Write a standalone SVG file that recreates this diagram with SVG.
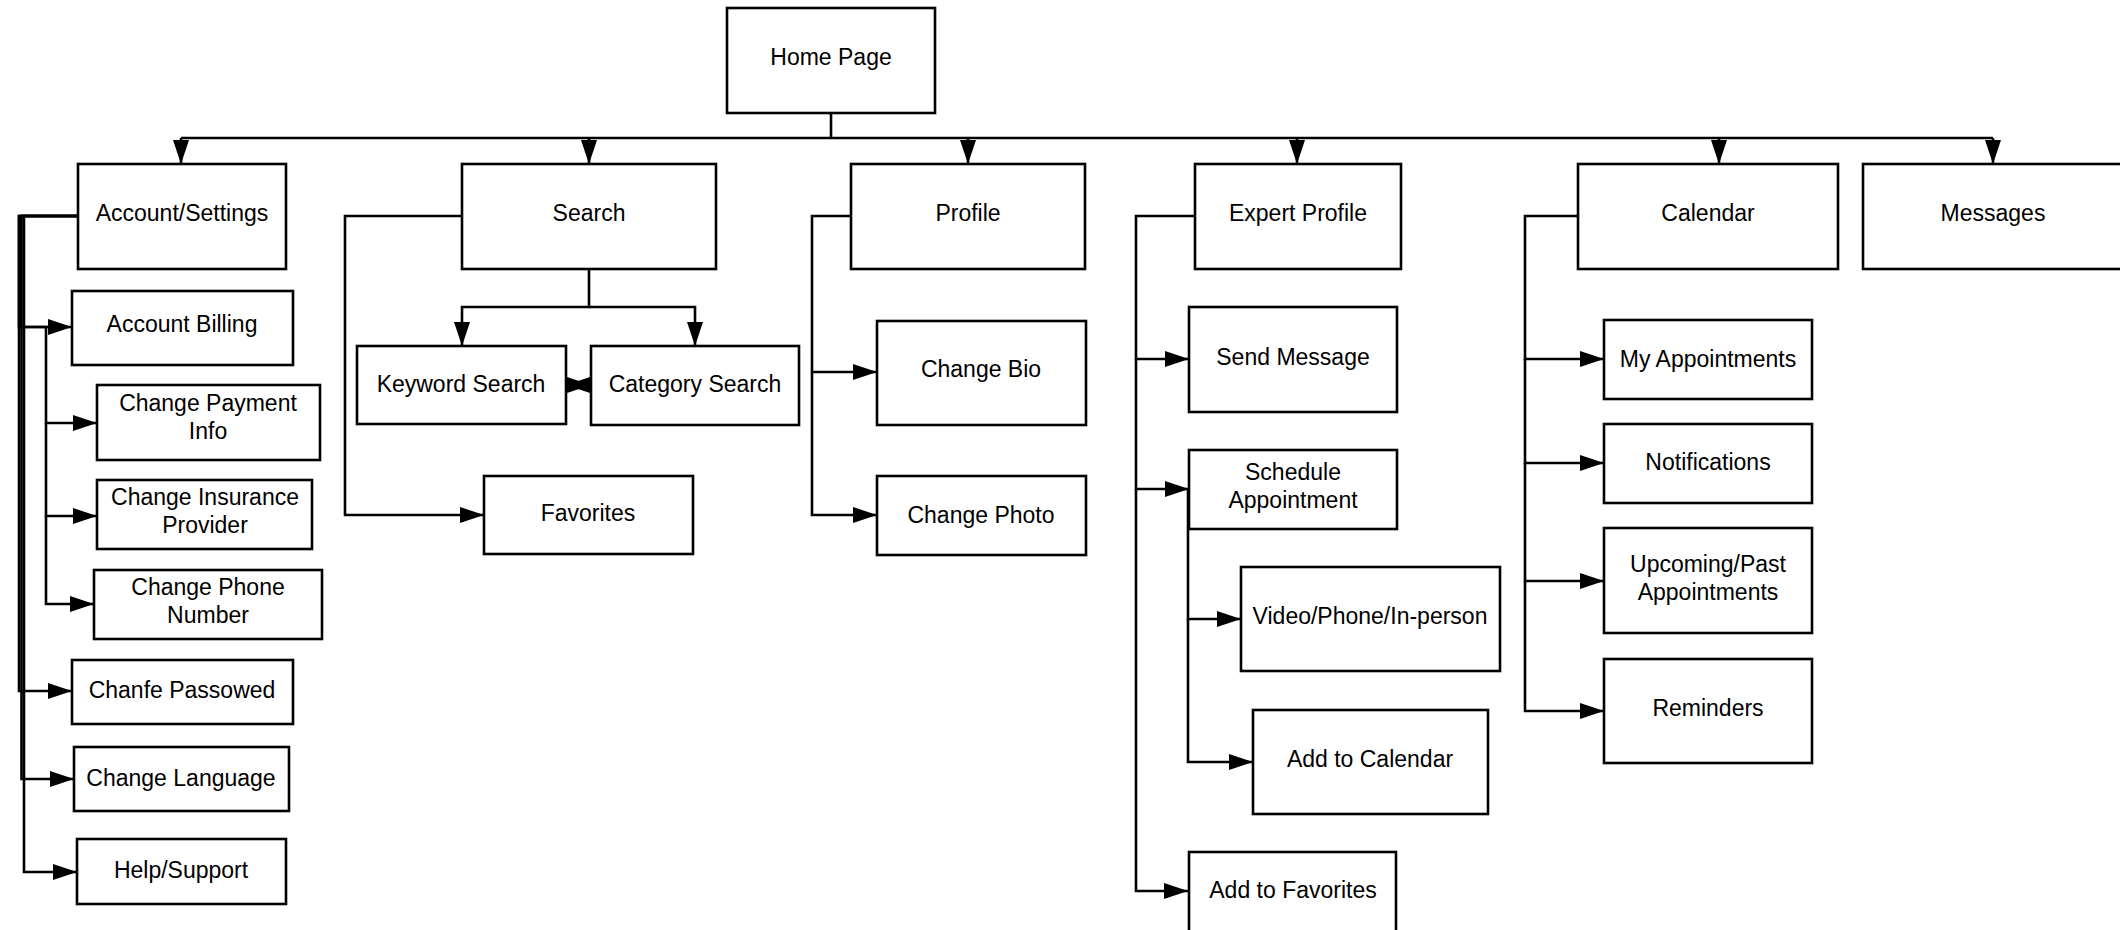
<svg xmlns="http://www.w3.org/2000/svg" width="2120" height="930" viewBox="0 0 2120 930">
<defs>
<marker id="arr" markerUnits="userSpaceOnUse" markerWidth="26" markerHeight="18" refX="24" refY="8" orient="auto-start-reverse"><path d="M0,0 L24,8 L0,16 z" fill="#000"/></marker>
<style>
.box{fill:#fff;stroke:#000;stroke-width:2.6}
.lbl{font-family:"Liberation Sans",Arial,sans-serif;font-size:23px;fill:#000;text-anchor:middle}
.c{fill:none;stroke:#000;stroke-width:2.6}
.a{marker-end:url(#arr)}
</style>
</defs>
<rect width="2120" height="930" fill="#fff"/>
<g id="connectors">
<path class="c" d="M831 113 V138"/>
<path class="c" d="M181 138 H1993"/>
<path class="c a" d="M181 138 V164"/>
<path class="c a" d="M589 138 V164"/>
<path class="c a" d="M968 138 V164"/>
<path class="c a" d="M1297 138 V164"/>
<path class="c a" d="M1719 138 V164"/>
<path class="c a" d="M1993 138 V164"/>
<path class="c a" d="M78 216 H19 V327 H72"/>
<path class="c a" d="M78 216 H21 V327 H46 V423 H97"/>
<path class="c a" d="M46 423 V516 H97"/>
<path class="c a" d="M46 516 V604 H94"/>
<path class="c a" d="M78 216 H19 V691 H72"/>
<path class="c a" d="M78 216 H21.5 V779 H74"/>
<path class="c a" d="M78 216 H24 V872 H77"/>
<path class="c a" d="M462 216 H345 V515 H484"/>
<path class="c a" d="M589 269 V307 H462 V346"/>
<path class="c a" d="M589 307 H695 V346"/>
<path class="c a" d="M566 385 H591" marker-start="url(#arr)"/>
<path class="c a" d="M851 216 H812 V372 H877"/>
<path class="c a" d="M812 372 V515 H877"/>
<path class="c a" d="M1195 216 H1136 V359 H1189"/>
<path class="c a" d="M1136 359 V489 H1189"/>
<path class="c a" d="M1136 489 V891 H1188"/>
<path class="c a" d="M1188 489 V619 H1241"/>
<path class="c a" d="M1188 619 V762 H1253"/>
<path class="c a" d="M1578 216 H1525 V359 H1604"/>
<path class="c a" d="M1525 359 V463 H1604"/>
<path class="c a" d="M1525 463 V581 H1604"/>
<path class="c a" d="M1525 581 V711 H1604"/>
</g>
<g id="home"><rect class="box" x="727" y="8" width="208" height="105"/><text class="lbl" x="831" y="65">Home Page</text></g>
<g id="account-settings"><rect class="box" x="78" y="164" width="208" height="105"/><text class="lbl" x="182" y="221">Account/Settings</text></g>
<g id="search"><rect class="box" x="462" y="164" width="254" height="105"/><text class="lbl" x="589" y="221">Search</text></g>
<g id="profile"><rect class="box" x="851" y="164" width="234" height="105"/><text class="lbl" x="968" y="221">Profile</text></g>
<g id="expert-profile"><rect class="box" x="1195" y="164" width="206" height="105"/><text class="lbl" x="1298" y="221">Expert Profile</text></g>
<g id="calendar"><rect class="box" x="1578" y="164" width="260" height="105"/><text class="lbl" x="1708" y="221">Calendar</text></g>
<g id="messages"><rect class="box" x="1863" y="164" width="262" height="105"/><text class="lbl" x="1993" y="221">Messages</text></g>
<g id="account-billing"><rect class="box" x="72" y="291" width="221" height="74"/><text class="lbl" x="182" y="332">Account Billing</text></g>
<g id="change-payment"><rect class="box" x="97" y="385" width="223" height="75"/><text class="lbl" x="208" y="411">Change Payment</text><text class="lbl" x="208" y="439">Info</text></g>
<g id="change-insurance"><rect class="box" x="97" y="480" width="215" height="69"/><text class="lbl" x="205" y="505">Change Insurance</text><text class="lbl" x="205" y="533">Provider</text></g>
<g id="change-phone"><rect class="box" x="94" y="570" width="228" height="69"/><text class="lbl" x="208" y="595">Change Phone</text><text class="lbl" x="208" y="623">Number</text></g>
<g id="change-password"><rect class="box" x="72" y="660" width="221" height="64"/><text class="lbl" x="182" y="698">Chanfe Passowed</text></g>
<g id="change-language"><rect class="box" x="74" y="747" width="215" height="64"/><text class="lbl" x="181" y="786">Change Language</text></g>
<g id="help-support"><rect class="box" x="77" y="839" width="209" height="65"/><text class="lbl" x="181" y="878">Help/Support</text></g>
<g id="keyword-search"><rect class="box" x="357" y="346" width="209" height="78"/><text class="lbl" x="461" y="392">Keyword Search</text></g>
<g id="category-search"><rect class="box" x="591" y="346" width="208" height="79"/><text class="lbl" x="695" y="392">Category Search</text></g>
<g id="favorites"><rect class="box" x="484" y="476" width="209" height="78"/><text class="lbl" x="588" y="521">Favorites</text></g>
<g id="change-bio"><rect class="box" x="877" y="321" width="209" height="104"/><text class="lbl" x="981" y="377">Change Bio</text></g>
<g id="change-photo"><rect class="box" x="877" y="476" width="209" height="79"/><text class="lbl" x="981" y="523">Change Photo</text></g>
<g id="send-message"><rect class="box" x="1189" y="307" width="208" height="105"/><text class="lbl" x="1293" y="365">Send Message</text></g>
<g id="schedule-appointment"><rect class="box" x="1189" y="450" width="208" height="79"/><text class="lbl" x="1293" y="480">Schedule</text><text class="lbl" x="1293" y="508">Appointment</text></g>
<g id="video-phone"><rect class="box" x="1241" y="567" width="259" height="104"/><text class="lbl" x="1370" y="624">Video/Phone/In-person</text></g>
<g id="add-to-calendar"><rect class="box" x="1253" y="710" width="235" height="104"/><text class="lbl" x="1370" y="767">Add to Calendar</text></g>
<g id="add-to-favorites"><rect class="box" x="1189" y="852" width="207" height="80"/><text class="lbl" x="1293" y="898">Add to Favorites</text></g>
<g id="my-appointments"><rect class="box" x="1604" y="320" width="208" height="79"/><text class="lbl" x="1708" y="367">My Appointments</text></g>
<g id="notifications"><rect class="box" x="1604" y="424" width="208" height="79"/><text class="lbl" x="1708" y="470">Notifications</text></g>
<g id="upcoming-past"><rect class="box" x="1604" y="528" width="208" height="105"/><text class="lbl" x="1708" y="572">Upcoming/Past</text><text class="lbl" x="1708" y="600">Appointments</text></g>
<g id="reminders"><rect class="box" x="1604" y="659" width="208" height="104"/><text class="lbl" x="1708" y="716">Reminders</text></g>
</svg>
